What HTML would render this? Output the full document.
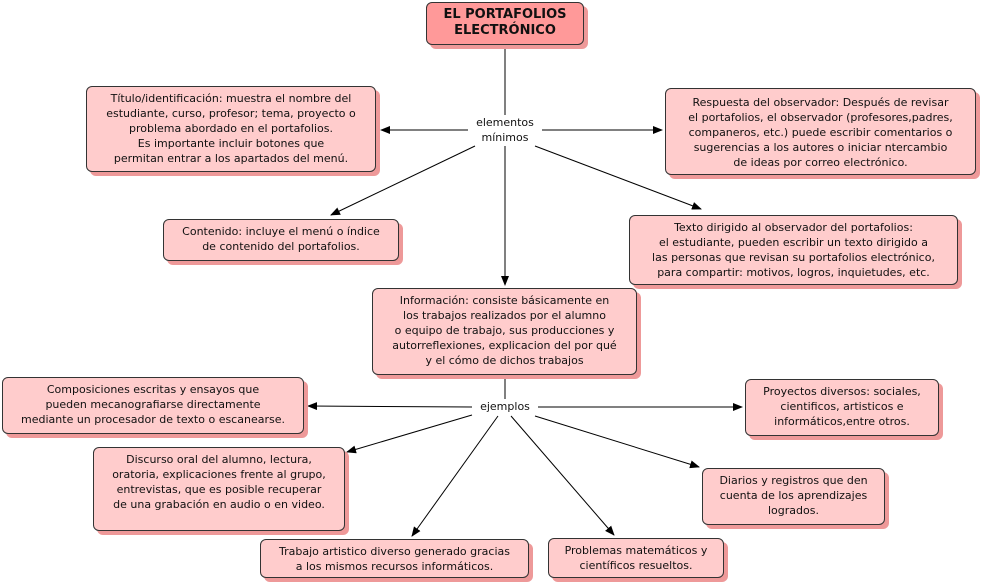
<!DOCTYPE html>
<html><head><meta charset="utf-8"><style>
body{margin:0;width:983px;height:585px;background:#fff;position:relative;overflow:hidden;font-family:"DejaVu Sans","Liberation Sans",sans-serif;font-size:11px;color:#111}
.b{position:absolute;box-sizing:border-box;background:#ffcccc;border:1px solid #333;border-radius:6px;box-shadow:4px 4px 0 #e99;text-align:center;line-height:15px;padding-top:4px;white-space:nowrap}
.l{position:absolute;background:#fff;text-align:center;line-height:15px;font-size:11px}
svg{position:absolute;left:0;top:0}
</style></head><body>
<svg width="983" height="585">
<defs><marker id="a" markerWidth="10" markerHeight="8" refX="9" refY="4" orient="auto" markerUnits="userSpaceOnUse"><path d="M0,0L10,4L0,8z" fill="#000"/></marker></defs>
<g stroke="#000" stroke-width="1" fill="none">
<line x1="505" y1="45" x2="505" y2="116"/>
<line x1="470" y1="130" x2="381" y2="130" marker-end="url(#a)"/>
<line x1="540" y1="130" x2="662" y2="130" marker-end="url(#a)"/>
<line x1="475" y1="146" x2="331" y2="215" marker-end="url(#a)"/>
<line x1="535" y1="146" x2="701" y2="209" marker-end="url(#a)"/>
<line x1="505" y1="146" x2="505" y2="285" marker-end="url(#a)"/>
<line x1="505" y1="375" x2="505" y2="399"/>
<line x1="472" y1="407" x2="308" y2="406" marker-end="url(#a)"/>
<line x1="538" y1="407" x2="742" y2="407" marker-end="url(#a)"/>
<line x1="472" y1="415" x2="347" y2="452" marker-end="url(#a)"/>
<line x1="498" y1="416" x2="412" y2="536" marker-end="url(#a)"/>
<line x1="511" y1="416" x2="614" y2="535" marker-end="url(#a)"/>
<line x1="535" y1="416" x2="699" y2="467" marker-end="url(#a)"/>
</g></svg>
<div class="b" style="left:426px;top:2px;width:158px;height:43px;background:#ff9999;font-weight:bold;font-size:13px;line-height:16px;padding-top:4px">EL PORTAFOLIOS<br>ELECTRÓNICO</div>
<div class="l" style="left:468px;top:115px;width:74px">elementos<br>mínimos</div>
<div class="l" style="left:472px;top:399px;width:66px">ejemplos</div>
<div class="b" style="left:86px;top:86px;width:290px;height:86px">Título/identificación: muestra el nombre del<br>estudiante, curso, profesor; tema, proyecto o<br>problema abordado en el portafolios.<br>Es importante incluir botones que<br>permitan entrar a los apartados del menú.</div>
<div class="b" style="left:665px;top:88px;width:311px;height:87px;padding-top:6px">Respuesta del observador: Después de revisar<br>el portafolios, el observador (profesores,padres,<br>companeros, etc.) puede escribir comentarios o<br>sugerencias a los autores o iniciar ntercambio<br>de ideas por correo electrónico.</div>
<div class="b" style="left:163px;top:219px;width:236px;height:42px">Contenido: incluye el menú o índice<br>de contenido del portafolios.</div>
<div class="b" style="left:629px;top:215px;width:329px;height:70px">Texto dirigido al observador del portafolios:<br>el estudiante, pueden escribir un texto dirigido a<br>las personas que revisan su portafolios electrónico,<br>para compartir: motivos, logros, inquietudes, etc.</div>
<div class="b" style="left:372px;top:288px;width:265px;height:87px">Información: consiste básicamente en<br>los trabajos realizados por el alumno<br>o equipo de trabajo, sus producciones y<br>autorreflexiones, explicacion del por qué<br>y el cómo de dichos trabajos</div>
<div class="b" style="left:2px;top:377px;width:302px;height:57px">Composiciones escritas y ensayos que<br>pueden mecanografiarse directamente<br>mediante un procesador de texto o escanearse.</div>
<div class="b" style="left:745px;top:379px;width:194px;height:57px">Proyectos diversos: sociales,<br>cientificos, artisticos e<br>informáticos,entre otros.</div>
<div class="b" style="left:93px;top:447px;width:252px;height:84px">Discurso oral del alumno, lectura,<br>oratoria, explicaciones frente al grupo,<br>entrevistas, que es posible recuperar<br>de una grabación en audio o en video.</div>
<div class="b" style="left:702px;top:468px;width:183px;height:57px">Diarios y registros que den<br>cuenta de los aprendizajes<br>logrados.</div>
<div class="b" style="left:260px;top:539px;width:269px;height:39px">Trabajo artistico diverso generado gracias<br>a los mismos recursos informáticos.</div>
<div class="b" style="left:548px;top:538px;width:176px;height:40px">Problemas matemáticos y<br>científicos resueltos.</div>
</body></html>
